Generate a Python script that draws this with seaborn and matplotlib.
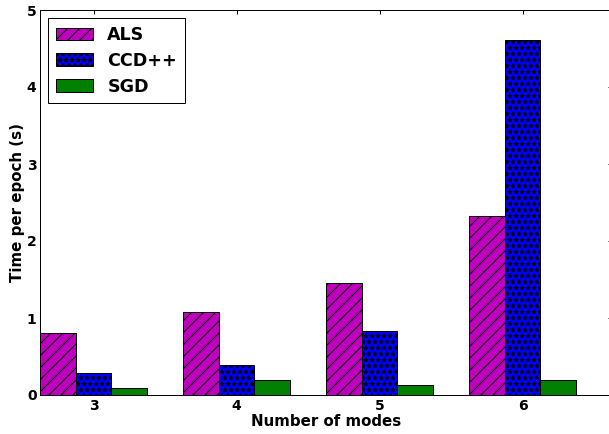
import pandas as pd
import matplotlib
matplotlib.use("Agg")
import matplotlib.pyplot as plt
import seaborn as sns

# data
modes = ["3", "4", "5", "6"]
methods = ["ALS", "CCD++", "SGD"]
als = [0.81, 1.08, 1.46, 2.32]
ccd = [0.28, 0.39, 0.83, 4.61]
sgd = [0.09, 0.19, 0.13, 0.19]

colors = ["#bf00bf", "#0000ff", "#008000"]
hatches = ["//", "**", ""]

df = pd.DataFrame({
    "modes": modes * 3,
    "time": als + ccd + sgd,
    "method": [m for m in methods for _ in modes],
})

sns.set_style("white")
plt.rcParams["font.family"] = ["DejaVu Sans"]
plt.rcParams["font.weight"] = "bold"
plt.rcParams["text.color"] = "black"
plt.rcParams["axes.labelcolor"] = "black"
plt.rcParams["xtick.color"] = "black"
plt.rcParams["ytick.color"] = "black"
plt.rcParams["hatch.linewidth"] = 1.0
plt.rcParams["hatch.color"] = "black"

fig = plt.figure(figsize=(609 / 72, 434 / 72), dpi=72)
ax = fig.add_axes([40 / 609, 1 - 395 / 434, 572 / 609, 385 / 434])

sns.barplot(data=df, x="modes", y="time", hue="method", palette=colors,
            width=0.75, edgecolor="black", linewidth=1.0, saturation=1,
            legend=False, ax=ax)

for cont, h in zip(ax.containers, hatches):
    for bar in cont:
        bar.set_hatch(h)
        # thinner outline for the star pattern so the blue shows through
        if h.startswith("*") and hasattr(bar, "set_hatch_linewidth"):
            bar.set_hatch_linewidth(0.7)

ax.set_xlim(-0.375, 3.625)
ax.set_ylim(0, 5)
ax.set_yticks([0, 1, 2, 3, 4, 5])

for s in ax.spines.values():
    s.set_color("black")
    s.set_linewidth(1.0)

ax.tick_params(direction="in", length=4, width=1, top=True, right=True,
               labelsize=14, pad=3.5, color="black", labelcolor="black")
for lab in ax.get_xticklabels() + ax.get_yticklabels():
    lab.set_fontweight("bold")

ax.set_xlabel("Number of modes", fontsize=15, fontweight="bold", labelpad=1)
ax.set_ylabel("Time per epoch (s)", fontsize=15, fontweight="bold", labelpad=1.5)

leg = ax.legend(ax.containers, methods, loc="upper left",
                prop={"weight": "bold", "size": 17.5}, fancybox=False,
                framealpha=1, edgecolor="black", borderaxespad=0.45,
                handlelength=2.1, handletextpad=0.85, labelspacing=0.45,
                borderpad=0.45)
leg.get_frame().set_linewidth(1.0)

fig.savefig("out.png", dpi=72)
